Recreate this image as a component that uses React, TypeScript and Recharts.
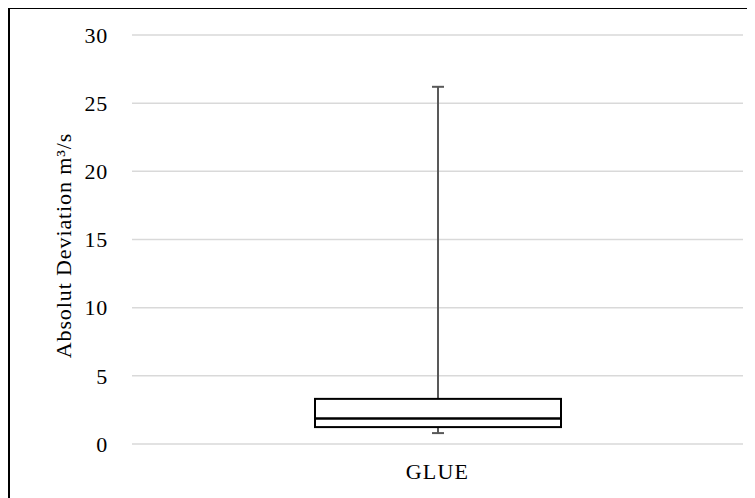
import { ComposedChart, Bar, XAxis, YAxis, CartesianGrid } from "recharts"

const categories = ["GLUE"]
const minValues = [0.8]
const q1Values = [1.24]
const medianValues = [1.87]
const q3Values = [3.31]
const maxValues = [26.2]
const yTicks = [0, 5, 10, 15, 20, 25, 30]

const data = categories.map((name, i) => ({
  name,
  min: minValues[i],
  q1: q1Values[i],
  median: medianValues[i],
  q3: q3Values[i],
  max: maxValues[i],
  range: [minValues[i], maxValues[i]],
}))

const FONT = "'Liberation Serif', 'DejaVu Serif', serif"

const BoxShape = (props: any) => {
  const { x, y, width, height, payload } = props
  const { min, q1, median, q3, max } = payload
  const k = height / (max - min)
  const py = (v: number) => y + (max - v) * k
  const cx = x + width / 2
  const cap = 6
  return (
    <g>
      <line x1={cx} x2={cx} y1={py(max)} y2={py(q3)} stroke="#595959" strokeWidth={2} />
      <line x1={cx} x2={cx} y1={py(q1)} y2={py(min)} stroke="#595959" strokeWidth={2} />
      <line x1={cx - cap} x2={cx + cap} y1={py(max)} y2={py(max)} stroke="#595959" strokeWidth={2} />
      <line x1={cx - cap} x2={cx + cap} y1={py(min)} y2={py(min)} stroke="#595959" strokeWidth={2} />
      <rect x={x} y={py(q3)} width={width} height={py(q1) - py(q3)} fill="#fff" stroke="#000" strokeWidth={2} />
      <line x1={x} x2={x + width} y1={py(median)} y2={py(median)} stroke="#000" strokeWidth={2.5} />
    </g>
  )
}

export default function App() {
  return (
    <div style={{ position: "relative", width: 747, height: 490, background: "#fff", fontFamily: FONT }}>
      <ComposedChart
        width={747}
        height={490}
        data={data}
        margin={{ top: 27, right: 12, bottom: 14, left: 0 }}
      >
        <CartesianGrid vertical={false} stroke="#d9d9d9" strokeWidth={1.5} />
        <XAxis
          dataKey="name"
          axisLine={false}
          tickLine={false}
          tickSize={0}
          tickMargin={19}
          height={40}
          tick={{ fill: "#000", fontSize: 22, fontFamily: FONT, letterSpacing: 1.2 }}
        />
        <YAxis
          domain={[0, 30]}
          ticks={yTicks}
          axisLine={false}
          tickLine={false}
          tickSize={0}
          tickMargin={24}
          width={124}
          tick={{ fill: "#000", fontSize: 22, fontFamily: FONT, letterSpacing: 0.8 }}
          label={{
            value: "Absolut Deviation m³/s",
            angle: -90,
            position: "center",
            dx: -7,
            dy: 6,
            style: { fill: "#000", fontSize: 22, fontFamily: FONT, textAnchor: "middle", letterSpacing: 0.9 },
          }}
        />
        <Bar dataKey="range" barSize={246} shape={BoxShape} isAnimationActive={false} />
      </ComposedChart>
      <div
        style={{
          position: "absolute",
          left: 0,
          top: -1,
          width: 760,
          height: 500,
          borderLeft: "2px solid #000",
          borderTop: "2px solid #000",
          pointerEvents: "none",
        }}
      />
    </div>
  )
}
